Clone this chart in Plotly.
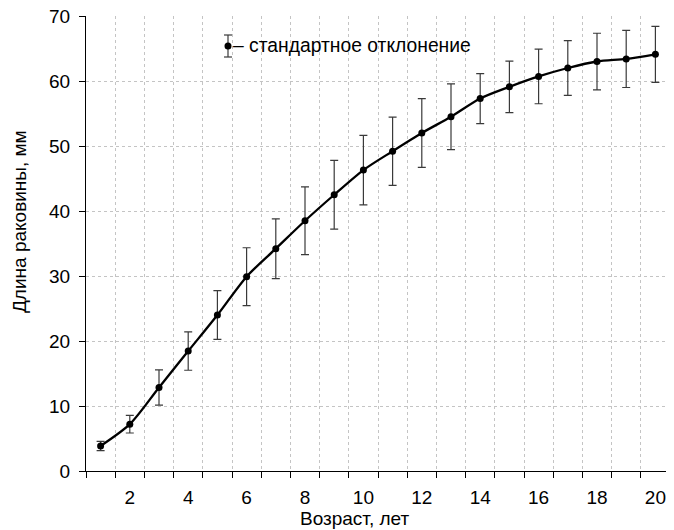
import plotly.graph_objects as go

ages = list(range(1, 21))
length_mm = [3.85, 7.2, 12.85, 18.45, 24.0, 29.9, 34.2, 38.5, 42.5, 46.3,
             49.2, 52.0, 54.5, 57.3, 59.1, 60.7, 62.0, 63.0, 63.4, 64.1]
sd_mm = [0.7, 1.35, 2.7, 2.95, 3.75, 4.45, 4.6, 5.2, 5.3, 5.35,
         5.25, 5.3, 5.05, 3.85, 3.95, 4.2, 4.2, 4.35, 4.4, 4.3]
x_tick_vals = [2, 4, 6, 8, 10, 12, 14, 16, 18, 20]
x_tick_text = [str(v) for v in x_tick_vals]
y_tick_vals = [0, 10, 20, 30, 40, 50, 60, 70]
legend_text = "– стандартное отклонение"
x_title = "Возраст, лет"
y_title = "Длина раковины, мм"

FONT = "Liberation Sans, Arial, sans-serif"
boundaries = [a - 0.5 for a in ages] + [ages[-1] + 0.5]

# page offset caused by the default body margin
O = 8
L, R, T, B = 86, 670, 16, 471          # plot area in window pixels
W, H = 674 - O, 530 - O


def px(x):
    return (x - L) / (R - L)


def py(y):
    return (B - y) / (B - T)


fig = go.Figure()
fig.add_trace(go.Scatter(
    x=ages, y=length_mm, mode="lines+markers",
    line=dict(color="black", width=2.3, shape="spline", smoothing=0.8),
    marker=dict(color="black", size=7),
    error_y=dict(type="data", array=sd_mm, visible=True,
                 color="#3a3a3a", thickness=1.2, width=4),
    showlegend=False,
))

# legend box (drawn)
lx, ly = 228, 46
fig.add_shape(type="rect", xref="paper", yref="paper",
              x0=px(216), x1=px(480), y0=py(66), y1=py(26),
              fillcolor="white", line=dict(width=0), layer="below")
fig.add_shape(type="line", xref="paper", yref="paper",
              x0=px(lx), x1=px(lx), y0=py(35), y1=py(57),
              line=dict(color="#3a3a3a", width=1.2))
for yy in (35, 57):
    fig.add_shape(type="line", xref="paper", yref="paper",
                  x0=px(lx - 4), x1=px(lx + 4), y0=py(yy), y1=py(yy),
                  line=dict(color="#3a3a3a", width=1.2))
fig.add_shape(type="circle", xref="paper", yref="paper",
              x0=px(lx - 3.5), x1=px(lx + 3.5), y0=py(ly + 3.5), y1=py(ly - 3.5),
              fillcolor="black", line=dict(width=0))
fig.add_annotation(xref="paper", yref="paper", x=px(231), y=py(ly),
                   xanchor="left", yanchor="middle", showarrow=False,
                   text=legend_text, font=dict(family=FONT, size=19.3, color="black"))

# axis titles
fig.add_annotation(xref="paper", yref="paper", x=px(355), y=py(518),
                   xanchor="center", yanchor="middle", showarrow=False,
                   text=x_title, font=dict(family=FONT, size=19, color="black"))
fig.add_annotation(xref="paper", yref="paper", x=px(20), y=py(222),
                   xanchor="center", yanchor="middle", showarrow=False, textangle=-90,
                   text=y_title, font=dict(family=FONT, size=19, color="black"))

fig.update_layout(
    width=W, height=H,
    margin=dict(l=L - O, r=W - (R - O), t=T - O, b=H - (B - O), autoexpand=False),
    plot_bgcolor="white", paper_bgcolor="white",
    font=dict(family=FONT, size=19, color="black"),
    xaxis=dict(
        range=[0.5, 20.5], tickvals=x_tick_vals, ticktext=x_tick_text,
        ticks="outside", ticklen=9, tickcolor="rgba(0,0,0,0)",
        showgrid=False, zeroline=False, automargin=False,
        ticklabeloverflow="allow",
        showline=True, linecolor="black", linewidth=1.3,
        minor=dict(tickvals=boundaries, ticks="outside", ticklen=6,
                   tickcolor="black", tickwidth=1,
                   showgrid=True, gridcolor="#c4c4c4", griddash="dot", gridwidth=1),
        tickfont=dict(size=19),
    ),
    yaxis=dict(
        range=[0, 70], tickvals=y_tick_vals,
        ticks="outside", ticklen=6, tickcolor="black", ticklabelstandoff=5,
        ticklabeloverflow="allow",
        showgrid=True, gridcolor="#c4c4c4", griddash="dot", gridwidth=1,
        zeroline=False, showline=True, linecolor="black", linewidth=1.3,
        automargin=False, tickfont=dict(size=19),
    ),
)

fig.write_html("out.html")
